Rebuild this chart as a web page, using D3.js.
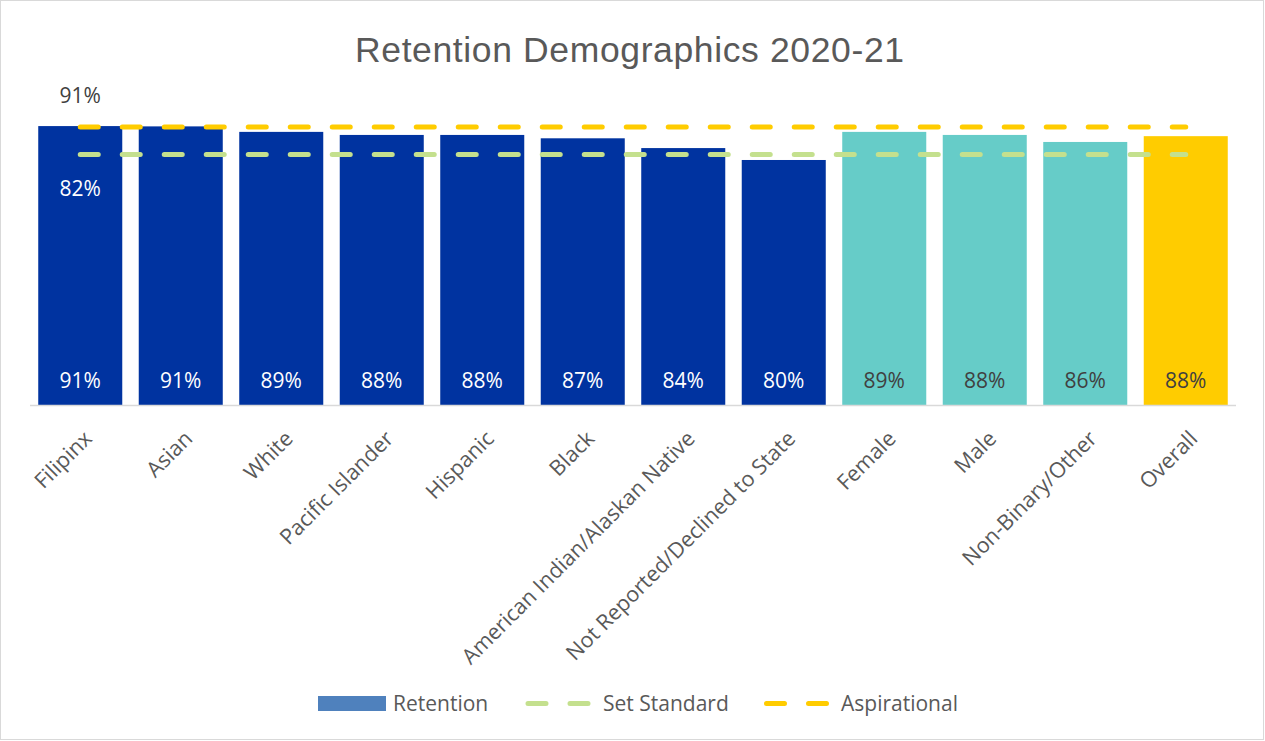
<!DOCTYPE html>
<html><head><meta charset="utf-8">
<script src="https://cdn.jsdelivr.net/npm/d3@7"></script>
<style>body{margin:0;background:#fff}svg{display:block}text{font-family:"Open Sans",sans-serif}</style>
</head><body>
<svg id="c" width="1265" height="741"></svg>
<script>
const categories = ["Filipinx","Asian","White","Pacific Islander","Hispanic","Black","American Indian/Alaskan Native","Not Reported/Declined to State","Female","Male","Non-Binary/Other","Overall"];
const retention = [0.913,0.912,0.894,0.884,0.884,0.873,0.841,0.802,0.894,0.884,0.861,0.880];
const groups = ["ethnicity","ethnicity","ethnicity","ethnicity","ethnicity","ethnicity","ethnicity","ethnicity","gender","gender","gender","overall"];
const setStandard = categories.map(() => 0.82);
const aspirational = categories.map(() => 0.91);
const seriesNames = ["Retention","Set Standard","Aspirational"];
const titleText = "Retention Demographics 2020-21";

const colors = {ethnicity:"#0033A0", gender:"#66CCC8", overall:"#FFCC00"};
const labelColors = {ethnicity:"#FFFFFF", gender:"#404040", overall:"#404040"};
const green = "#C4E08E", gold = "#FFCC00";
const FS = 21;

const svg = d3.select("#c");
svg.append("rect").attr("x",0.5).attr("y",0.5).attr("width",1263).attr("height",739).attr("fill","#fff").attr("stroke","#D9D9D9");

svg.append("text").attr("x",355).attr("y",62).attr("text-anchor","start")
  .style("font-family","'Liberation Sans',Arial,sans-serif")
  .attr("font-size",35.5).attr("fill","#595959")
  .attr("textLength",549).attr("lengthAdjust","spacing").text(titleText);

const x = d3.scaleBand().domain(categories).range([30,1236]).paddingInner(0.164).paddingOuter(0.082);
const y = d3.scaleLinear().domain([0,1]).range([405,99.5]);
const fmt = d3.format(".0%");

// bars
svg.append("g").selectAll("rect").data(categories).join("rect")
  .attr("x",d=>x(d)).attr("width",x.bandwidth())
  .attr("y",(d,i)=>y(retention[i])).attr("height",(d,i)=>y(0)-y(retention[i]))
  .attr("fill",(d,i)=>colors[groups[i]]);

// axis line
svg.append("line").attr("x1",30).attr("x2",1236).attr("y1",405.5).attr("y2",405.5).attr("stroke","#D9D9D9").attr("stroke-width",1.5);

// bar labels
svg.append("g").selectAll("text").data(categories).join("text")
  .attr("x",d=>x(d)+x.bandwidth()/2).attr("y",388).attr("text-anchor","middle")
  .attr("font-size",FS).attr("fill",(d,i)=>labelColors[groups[i]])
  .text((d,i)=>fmt(retention[i]));

// lines
const line = d3.line().x((d,i)=>x(categories[i])+x.bandwidth()/2).y(d=>y(d));
svg.append("path").datum(setStandard).attr("d",line).attr("fill","none").attr("stroke",green)
  .attr("stroke-width",5).attr("stroke-linecap","round").attr("stroke-dasharray","18,24");
svg.append("path").datum(aspirational).attr("d",line).attr("fill","none").attr("stroke",gold)
  .attr("stroke-width",5).attr("stroke-linecap","round").attr("stroke-dasharray","18,24");

// line labels
const cx0 = x(categories[0])+x.bandwidth()/2;
svg.append("text").attr("x",cx0).attr("y",y(aspirational[0])-24).attr("text-anchor","middle")
  .attr("font-size",FS).attr("fill","#404040").text(fmt(aspirational[0]));
svg.append("text").attr("x",cx0).attr("y",y(setStandard[0])+41.5).attr("text-anchor","middle")
  .attr("font-size",FS).attr("fill","#FFFFFF").text(fmt(setStandard[0]));

// category labels
svg.append("g").selectAll("text").data(categories).join("text")
  .attr("transform",d=>`translate(${x(d)+x.bandwidth()/2+13},440) rotate(-45)`)
  .attr("text-anchor","end").attr("font-size",21.5).attr("fill","#595959").text(d=>d);

// legend
const lg = svg.append("g");
lg.append("rect").attr("x",318).attr("y",696).attr("width",68).attr("height",15).attr("fill","#4F81BD");
lg.append("text").attr("x",393).attr("y",711).attr("font-size",FS).attr("fill","#595959").text(seriesNames[0]);
lg.append("line").attr("x1",528).attr("x2",588).attr("y1",703.5).attr("y2",703.5).attr("stroke",green)
  .attr("stroke-width",5).attr("stroke-linecap","round").attr("stroke-dasharray","18,24");
lg.append("text").attr("x",603).attr("y",711).attr("font-size",FS).attr("fill","#595959").text(seriesNames[1]);
lg.append("line").attr("x1",766.5).attr("x2",827.5).attr("y1",703.5).attr("y2",703.5).attr("stroke",gold)
  .attr("stroke-width",5).attr("stroke-linecap","round").attr("stroke-dasharray","18,24");
lg.append("text").attr("x",841).attr("y",711).attr("font-size",FS).attr("fill","#595959").text(seriesNames[2]);
</script>
</body></html>
